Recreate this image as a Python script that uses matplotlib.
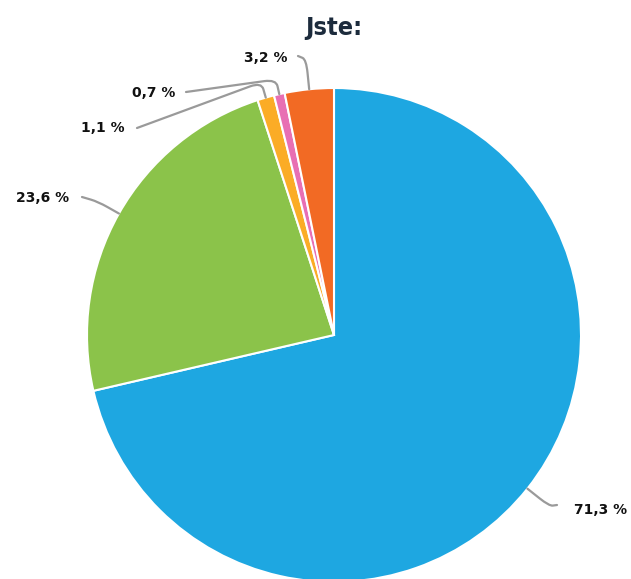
import numpy as np
import matplotlib
matplotlib.use("Agg")
import matplotlib.pyplot as plt
from matplotlib.path import Path
from matplotlib.patches import PathPatch

# ---- data ----
labels = ["71,3 %", "23,6 %", "1,1 %", "0,7 %", "3,2 %"]
values = [71.3, 23.6, 1.1, 0.7, 3.2]
colors = ["#1ea7e1", "#8bc34a", "#fbac26", "#e86fb3", "#f26a24"]
title = "Jste:"

# ---- layout (pixel-space, y measured from top) ----
W, H = 631, 579
center_px = (334, 335)
radius = 247
label_layout = [
    dict(dr=28, end=(557, 505), text=(574, 510), ha="left"),
    dict(dr=24, end=(82, 197), text=(69, 198), ha="right"),
    dict(dr=16, end=(137, 128), text=(125, 128), ha="right"),
    dict(dr=15, end=(186, 92), text=(175, 93), ha="right"),
    dict(dr=30, end=(298, 56), text=(287, 58), ha="right"),
]

fig = plt.figure(figsize=(W / 100, H / 100), dpi=100)
ax = fig.add_axes([0, 0, 1, 1])

cx, cy = center_px[0], H - center_px[1]
wedges, _ = ax.pie(values, colors=colors, startangle=90, counterclock=False,
                   center=(cx, cy), radius=radius, frame=True,
                   wedgeprops=dict(edgecolor="white", linewidth=1.5))
ax.set_xlim(0, W)
ax.set_ylim(0, H)
ax.set_aspect("equal")
ax.axis("off")

for w, lab, lay in zip(wedges, labels, label_layout):
    mid = np.deg2rad((w.theta1 + w.theta2) / 2)
    d = np.array([np.cos(mid), np.sin(mid)])
    start = np.array([cx, cy]) + d * radius
    elbow = np.array([cx, cy]) + d * (radius + lay["dr"])
    end = np.array([lay["end"][0], H - lay["end"][1]])
    p1 = start + (elbow - start) * 0.55
    seg = end - elbow
    p2 = elbow + seg / np.linalg.norm(seg) * min(12, np.linalg.norm(seg) * 0.45)
    verts = [start, p1, elbow, p2, end]
    codes = [Path.MOVETO, Path.LINETO, Path.CURVE3, Path.CURVE3, Path.LINETO]
    ax.add_patch(PathPatch(Path(verts, codes), fill=False, edgecolor="#9a9a9a", lw=1.6,
                           capstyle="round", joinstyle="round"))
    ax.text(lay["text"][0], H - lay["text"][1], lab, ha=lay["ha"], va="center",
            fontsize=10, fontweight="bold", color="#111111")

t = ax.text(334, H - 35, title, ha="center", va="baseline", fontsize=21, fontweight="bold",
            color="#1c2b3c", fontstretch="condensed")
fig.canvas.draw()
bb = t.get_window_extent()
if bb.width > 60:
    t.set_fontsize(21 * 57 / bb.width)

fig.savefig("out.png", dpi=100)
